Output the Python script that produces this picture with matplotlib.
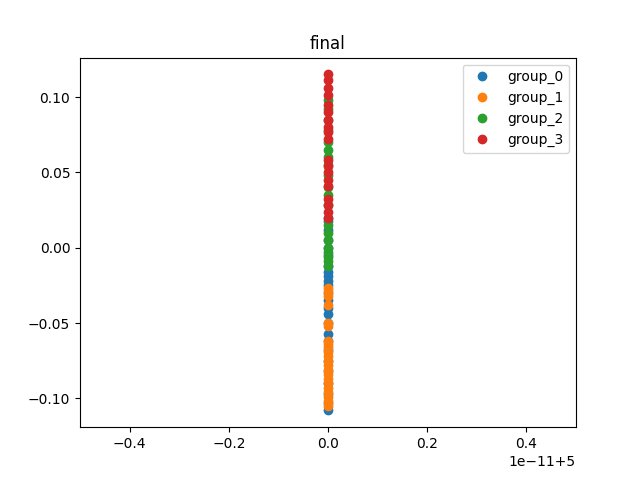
import matplotlib
matplotlib.use("Agg")
import matplotlib.pyplot as plt

x_value = 5.0
labels = ["group_0", "group_1", "group_2", "group_3"]
group_0 = [0.018, 0.012, 0.005, 0.0, -0.005, -0.012, -0.016, -0.019, -0.022, -0.025,
           -0.03, -0.035, -0.04, -0.044, -0.05, -0.057, -0.062, -0.068, -0.075, -0.082,
           -0.09, -0.097, -0.103, -0.108]
group_1 = [-0.027, -0.029, -0.032, -0.038, -0.05, -0.052, -0.062, -0.064, -0.066, -0.069,
           -0.072, -0.075, -0.078, -0.081, -0.084, -0.087, -0.09, -0.093, -0.096, -0.099,
           -0.102, -0.105]
group_2 = [0.098, 0.092, 0.085, 0.078, 0.07, 0.065, 0.06, 0.055, 0.048, 0.04, 0.035,
           0.028, 0.02, 0.015, 0.01, 0.005, 0.0, -0.003, -0.006, -0.009, -0.012]
group_3 = [0.115, 0.111, 0.106, 0.101, 0.095, 0.09, 0.085, 0.08, 0.077, 0.072,
           0.058, 0.054, 0.05, 0.045, 0.041, 0.032, 0.028, 0.024, 0.02]

fig, ax = plt.subplots(figsize=(6.4, 4.8), dpi=100)
for lab, ys in zip(labels, [group_0, group_1, group_2, group_3]):
    ax.plot([x_value] * len(ys), ys, "o", label=lab)
ax.set_xlim(x_value - 5.0001e-12, x_value + 5.0001e-12)
ax.set_title("final")
ax.legend(loc="upper right")
fig.savefig("out.png")
